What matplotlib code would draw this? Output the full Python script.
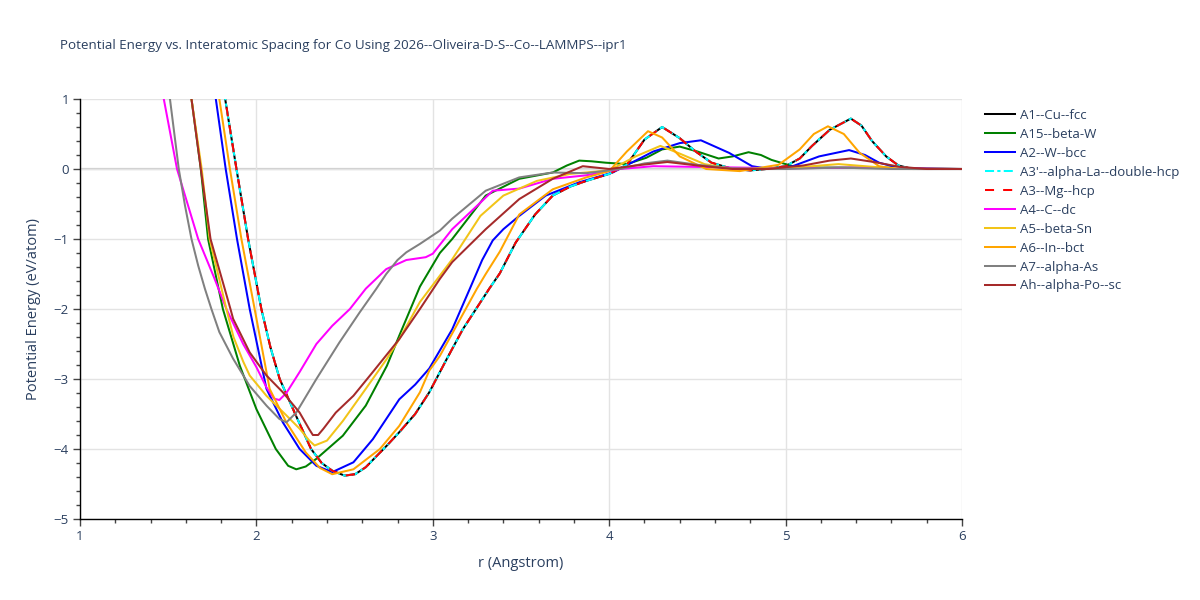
import matplotlib
matplotlib.use("Agg")
import matplotlib.pyplot as plt
from matplotlib.ticker import MultipleLocator

plt.rcParams['font.family'] = ['Open Sans', 'DejaVu Sans']

TITLE = "Potential Energy vs. Interatomic Spacing for Co Using 2026--Oliveira-D-S--Co--LAMMPS--ipr1"
XLABEL = "r (Angstrom)"
YLABEL = "Potential Energy (eV/atom)"

# A1--Cu--fcc (A3'--alpha-La--double-hcp and A3--Mg--hcp coincide with it)
cu_x = [1.76, 1.823, 1.887, 1.953, 2.028, 2.08, 2.132, 2.22, 2.31, 2.37, 2.43, 2.5, 2.56, 2.62,
        2.74, 2.81, 2.9, 2.98, 3.08, 3.17, 3.32, 3.38, 3.47, 3.58, 3.68, 3.78, 3.87, 4.0, 4.1,
        4.2, 4.3, 4.4, 4.49, 4.58, 4.7, 4.8, 4.89, 5.0, 5.08, 5.15, 5.25, 5.37, 5.43, 5.49,
        5.57, 5.64, 5.72, 5.85, 6.0]
cu_y = [1.9, 1.0, 0.0, -1.0, -2.0, -2.55, -3.0, -3.5, -4.0, -4.2, -4.31, -4.38, -4.36, -4.26,
        -3.95, -3.76, -3.5, -3.19, -2.71, -2.29, -1.71, -1.49, -1.05, -0.65, -0.38, -0.25, -0.17,
        -0.07, 0.06, 0.42, 0.6, 0.44, 0.25, 0.09, 0.0, -0.02, 0.0, 0.04, 0.15, 0.33, 0.56,
        0.72, 0.62, 0.4, 0.18, 0.05, 0.0, 0.0, 0.0]

dhcp_x = cu_x
dhcp_y = cu_y
hcp_x = cu_x
hcp_y = cu_y

# A15--beta-W
a15_x = [1.61, 1.632, 1.685, 1.726, 1.81, 1.906, 2.0, 2.11, 2.18, 2.226, 2.28, 2.34, 2.49, 2.62,
         2.74, 2.81, 2.927, 3.04, 3.11, 3.30, 3.49, 3.68, 3.76, 3.83, 3.9, 3.98, 4.10, 4.21,
         4.3, 4.4, 4.5, 4.62, 4.7, 4.79, 4.86, 4.92, 5.04, 5.2, 5.6, 6.0]
a15_y = [1.5, 1.0, 0.0, -1.0, -2.0, -2.81, -3.43, -4.0, -4.24, -4.29, -4.25, -4.14, -3.81, -3.38,
         -2.81, -2.38, -1.68, -1.2, -1.0, -0.38, -0.14, -0.05, 0.05, 0.12, 0.11, 0.09, 0.07, 0.16,
         0.28, 0.32, 0.25, 0.15, 0.18, 0.24, 0.2, 0.13, 0.04, 0.02, 0.02, 0.0]

# A2--W--bcc
bcc_x = [1.74, 1.77, 1.826, 1.89, 1.962, 2.057, 2.15, 2.245, 2.34, 2.43, 2.55, 2.66, 2.81, 2.9,
         2.98, 3.11, 3.21, 3.28, 3.34, 3.4, 3.49, 3.64, 3.83, 4.02, 4.25, 4.4, 4.52, 4.68, 4.81,
         4.91, 5.04, 5.19, 5.36, 5.45, 5.53, 5.62, 5.75, 6.0]
bcc_y = [1.6, 1.0, 0.0, -1.0, -2.0, -3.14, -3.62, -4.0, -4.24, -4.33, -4.19, -3.86, -3.29, -3.08,
         -2.85, -2.29, -1.71, -1.3, -1.02, -0.86, -0.67, -0.38, -0.19, -0.05, 0.25, 0.37, 0.41,
         0.23, 0.04, 0.0, 0.04, 0.18, 0.27, 0.2, 0.09, 0.03, 0.0, 0.0]

# A4--C--dc
dc_x = [1.45, 1.475, 1.55, 1.67, 1.76, 1.83, 1.925, 2.0, 2.057, 2.10, 2.13, 2.17, 2.245, 2.34,
        2.43, 2.53, 2.62, 2.736, 2.85, 2.96, 3.0, 3.11, 3.27, 3.34, 3.49, 3.68, 3.87, 4.06, 4.25,
        4.5, 5.0, 5.4, 6.0]
dc_y = [1.4, 1.0, 0.0, -1.0, -1.55, -2.0, -2.5, -2.83, -3.12, -3.28, -3.3, -3.2, -2.9, -2.5,
        -2.24, -2.0, -1.71, -1.43, -1.30, -1.26, -1.21, -0.86, -0.48, -0.31, -0.28, -0.14, -0.09,
        0.0, 0.04, 0.03, 0.01, 0.02, 0.0]

# A5--beta-Sn
sn_x = [1.61, 1.632, 1.69, 1.735, 1.83, 1.87, 1.925, 1.962, 2.057, 2.17, 2.245, 2.30, 2.33, 2.40,
        2.49, 2.62, 2.74, 2.81, 2.927, 3.11, 3.27, 3.40, 3.59, 3.78, 4.0, 4.15, 4.29, 4.4, 4.54,
        4.7, 5.0, 5.3, 5.5, 5.7, 6.0]
sn_y = [1.5, 1.0, 0.0, -1.0, -2.0, -2.4, -2.75, -2.95, -3.24, -3.52, -3.71, -3.88, -3.95, -3.88,
        -3.6, -3.14, -2.71, -2.43, -1.9, -1.29, -0.67, -0.38, -0.17, -0.07, -0.02, 0.18, 0.33,
        0.22, 0.07, 0.0, 0.01, 0.07, 0.03, 0.0, 0.0]

# A6--In--bct
bct_x = [1.765, 1.79, 1.85, 1.915, 1.99, 2.075, 2.17, 2.28, 2.36, 2.43, 2.55, 2.70, 2.81, 2.927,
         2.98, 3.04, 3.25, 3.30, 3.38, 3.49, 3.68, 3.87, 4.0, 4.1, 4.22, 4.3, 4.4, 4.55, 4.74,
         4.96, 5.08, 5.16, 5.24, 5.33, 5.42, 5.53, 5.62, 6.0]
bct_y = [1.5, 1.0, 0.0, -1.0, -2.0, -3.14, -3.62, -4.05, -4.27, -4.36, -4.29, -4.0, -3.67, -3.19,
         -2.88, -2.67, -1.71, -1.5, -1.18, -0.65, -0.29, -0.12, -0.03, 0.25, 0.54, 0.45, 0.18,
         0.0, -0.03, 0.06, 0.28, 0.5, 0.61, 0.5, 0.23, 0.04, 0.0, 0.0]

# A7--alpha-As
as_x = [1.49, 1.51, 1.56, 1.595, 1.632, 1.67, 1.708, 1.745, 1.79, 1.868, 1.962, 2.057, 2.13,
        2.17, 2.226, 2.34, 2.47, 2.585, 2.68, 2.736, 2.8, 2.85, 2.927, 3.04, 3.11, 3.30, 3.49,
        3.68, 3.87, 4.06, 4.2, 4.33, 4.5, 4.7, 5.0, 5.3, 5.6, 6.0]
as_y = [1.4, 1.0, 0.0, -0.52, -1.0, -1.38, -1.71, -2.0, -2.33, -2.71, -3.1, -3.38, -3.57,
        -3.62, -3.48, -3.0, -2.48, -2.05, -1.71, -1.5, -1.3, -1.19, -1.07, -0.88, -0.71, -0.31,
        -0.12, -0.05, -0.06, 0.0, 0.08, 0.12, 0.06, 0.01, 0.0, 0.02, 0.0, 0.0]

# Ah--alpha-Po--sc
sc_x = [1.61, 1.632, 1.685, 1.74, 1.853, 1.868, 1.962, 2.057, 2.15, 2.245, 2.30, 2.32, 2.35,
        2.38, 2.45, 2.55, 2.66, 2.81, 2.927, 3.04, 3.11, 3.30, 3.49, 3.68, 3.85, 4.0, 4.15,
        4.33, 4.5, 4.7, 4.9, 5.1, 5.25, 5.37, 5.5, 5.65, 5.8, 6.0]
sc_y = [1.5, 1.0, 0.0, -1.0, -2.0, -2.14, -2.62, -2.95, -3.19, -3.48, -3.72, -3.8, -3.8,
        -3.71, -3.48, -3.24, -2.9, -2.43, -2.0, -1.57, -1.33, -0.86, -0.43, -0.14, 0.04, 0.0,
        0.05, 0.1, 0.05, 0.0, 0.0, 0.05, 0.12, 0.15, 0.1, 0.03, 0.0, 0.0]

series = [
    ("A1--Cu--fcc", cu_x, cu_y, "black", "solid"),
    ("A15--beta-W", a15_x, a15_y, "green", "solid"),
    ("A2--W--bcc", bcc_x, bcc_y, "blue", "solid"),
    ("A3'--alpha-La--double-hcp", dhcp_x, dhcp_y, "cyan", "dashdot"),
    ("A3--Mg--hcp", hcp_x, hcp_y, "red", "dash"),
    ("A4--C--dc", dc_x, dc_y, "magenta", "solid"),
    ("A5--beta-Sn", sn_x, sn_y, "#f2c418", "solid"),
    ("A6--In--bct", bct_x, bct_y, "orange", "solid"),
    ("A7--alpha-As", as_x, as_y, "grey", "solid"),
    ("Ah--alpha-Po--sc", sc_x, sc_y, "brown", "solid"),
]

fig = plt.figure(figsize=(12, 6), dpi=100)
ax = fig.add_axes([80 / 1200, 81 / 600, 882 / 1200, 420 / 600])

lw = 1.45
for name, xs, ys, col, style in series:
    line, = ax.plot(xs, ys, color=col, lw=lw, label=name, solid_joinstyle='round')
    if style == "dash":
        line.set_dashes((4.5, 4.5))
    elif style == "dashdot":
        line.set_dashes((4.5, 1.6, 1.6, 1.6))

ax.set_xlim(1, 6)
ax.set_ylim(-5, 1)
ax.xaxis.set_major_locator(MultipleLocator(1))
ax.xaxis.set_minor_locator(MultipleLocator(0.2))
ax.yaxis.set_major_locator(MultipleLocator(1))
ax.yaxis.set_minor_locator(MultipleLocator(0.2))
ax.grid(True, which='major', color='#e3e3e3', lw=1.0)
ax.axhline(0, color='#cfcfcf', lw=1.6, zorder=0.5)
ax.set_axisbelow(True)

for s in ['top', 'right']:
    ax.spines[s].set_visible(False)
for s in ['left', 'bottom']:
    ax.spines[s].set_color('black')
    ax.spines[s].set_linewidth(1.0)

tc = '#2a3f5f'
ax.tick_params(which='major', direction='out', length=5, width=1, color='#444444',
               labelsize=9.5, labelcolor=tc, pad=3)
ax.tick_params(which='minor', direction='out', length=3, width=1, color='#444444')

ax.set_xlabel(XLABEL, fontsize=10.5, color=tc, labelpad=9)
ax.set_ylabel(YLABEL, fontsize=10.5, color=tc, labelpad=9)

fig.text(60 / 1200, 1 - 45 / 600, TITLE, fontsize=9.64, color=tc, va='center', ha='left')

leg = fig.legend(loc='upper left', bbox_to_anchor=(985 / 1200, 1 - 109 / 600), frameon=False,
                 fontsize=9.5, handlelength=2.27, handletextpad=0.4, labelspacing=0.45,
                 borderaxespad=0, borderpad=0)
for t in leg.get_texts():
    t.set_color(tc)

fig.savefig("out.png", dpi=100)
